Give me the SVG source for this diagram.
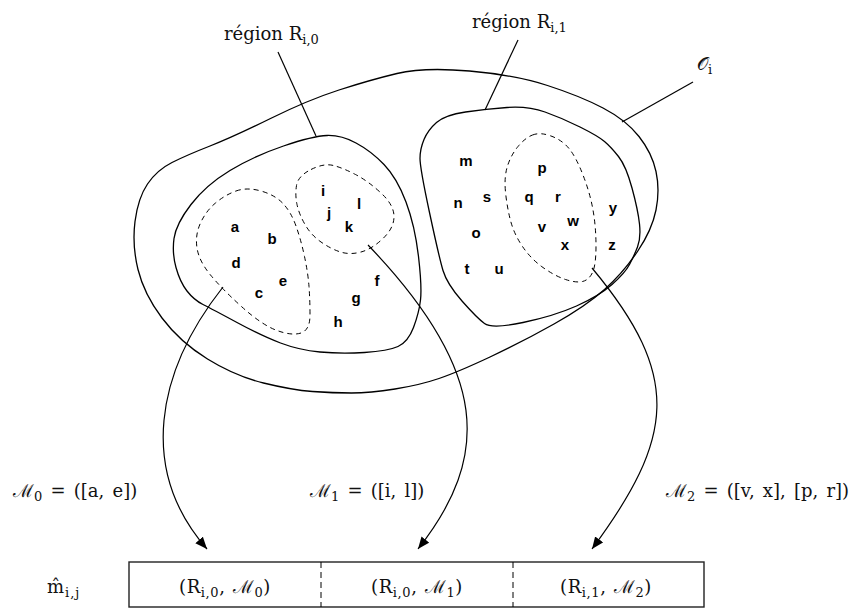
<svg xmlns="http://www.w3.org/2000/svg" width="851" height="610" viewBox="0 0 851 610">
<style>
.solid{fill:none;stroke:#000;stroke-width:1.3}
.dash{fill:none;stroke:#000;stroke-width:1;stroke-dasharray:5 4}
.lead{fill:none;stroke:#000;stroke-width:1.2}
.conn{fill:none;stroke:#000;stroke-width:1.2;marker-end:url(#ah)}
.lt{font-family:"Liberation Sans",Arial,sans-serif;font-weight:bold;font-size:15px;fill:#000;text-anchor:middle}
.mt{font-family:"DejaVu Serif","Liberation Serif",serif;font-size:18px;fill:#111}
.ml{word-spacing:2.5px}
.bt{letter-spacing:0.6px;word-spacing:1px}
.sub{font-size:13px}
</style>
<defs>
<marker id="ah" markerUnits="userSpaceOnUse" markerWidth="14" markerHeight="12" refX="12" refY="5" orient="auto">
<path d="M0,0 L12,5 L0,10 Z" fill="#000"/>
</marker>
</defs>
<rect width="851" height="610" fill="#fff"/>

<g id="region-O">
<path class="solid" d="M397,73.5 Q424,67 469.5,71 Q515,75 547.5,85.5 Q580,96 603,108 Q626,120 639,136.5 Q652,153 656,171.5 Q660,190 656,210 Q652,230 637.5,251.5 Q623,273 604.5,289.5 Q586,306 554,324 Q522,342 490,357 Q458,372 439,378.5 Q420,385 395,389 Q370,393 351.5,393 Q333,393 312.5,391.5 Q292,390 263.5,383 Q235,376 207.5,359 Q180,342 162,318 Q144,294 138,269.5 Q132,245 135,221.5 Q138,198 147.5,184 Q157,170 172,162.5 Q187,155 210,146 Q233,137 270.5,118.5 Q308,100 339,90 Q370,80 397,73.5 Z"/>
<line class="lead" x1="622" y1="122" x2="693" y2="82"/>
<text class="mt" x="697" y="70">𝒪<tspan class="sub" dy="4">i</tspan></text>
</g>

<g id="region-R0">
<path class="solid" d="M356,143 Q341,135 327,135.5 Q313,136 283.5,146 Q254,156 230,170.5 Q206,185 191,204.5 Q176,224 174,238.5 Q172,253 176,267.5 Q180,282 187,291 Q194,300 203,304.5 Q212,309 237,322.5 Q262,336 280.5,343 Q299,350 320,352 Q341,354 364.5,352.5 Q388,351 398,346.5 Q408,342 413.5,327.5 Q419,313 420.5,300 Q422,287 418.5,256.5 Q415,226 406,202 Q397,178 384,164.5 Q371,151 356,143 Z"/>
<line class="lead" x1="278" y1="52" x2="316" y2="136"/>
<text class="mt" x="224" y="40">région R<tspan class="sub" dy="4">i,0</tspan></text>
</g>

<g id="region-R1">
<path class="solid" d="M436.5,122.5 Q445,115 465.5,112 Q486,109 507,107.5 Q528,106 545,112 Q562,118 580,127 Q598,136 604.5,141.5 Q611,147 618.5,156.5 Q626,166 632,188 Q638,210 639.5,224 Q641,238 637.5,247 Q634,256 629.5,264.5 Q625,273 612,284.5 Q599,296 576.5,306 Q554,316 523,322.5 Q492,329 484.5,323.5 Q477,318 462,301 Q447,284 443,270.5 Q439,257 429.5,212.5 Q420,168 420,158.5 Q420,149 424,139.5 Q428,130 436.5,122.5 Z"/>
<line class="lead" x1="485" y1="110" x2="518" y2="40"/>
<text class="mt" x="472" y="28">région R<tspan class="sub" dy="4">i,1</tspan></text>
</g>

<g id="group-M0">
<path class="dash" d="M236,191 Q247,187 261,191 Q275,195 283,203.5 Q291,212 296,226 Q301,240 304.5,256.5 Q308,273 309,286.5 Q310,300 310,315 Q310,330 301,333 Q292,336 277,330.5 Q262,325 242,307 Q222,289 210.5,275 Q199,261 197,248 Q195,235 200.5,223 Q206,211 215.5,203 Q225,195 236,191 Z"/>
</g>
<g id="group-M1">
<path class="dash" d="M311,169.5 Q324,163 333.5,165.5 Q343,168 355.5,174.5 Q368,181 381,193 Q394,205 394,216.5 Q394,228 383,238.5 Q372,249 361,252 Q350,255 340.5,252 Q331,249 321,242 Q311,235 305,224.5 Q299,214 297,204.5 Q295,195 296.5,185.5 Q298,176 311,169.5 Z"/>
</g>
<g id="group-M2">
<path class="dash" d="M532.5,135 Q540,132 551,136 Q562,140 569,148.5 Q576,157 583,175 Q590,193 593,210 Q596,227 596,246 Q596,265 592.5,272.5 Q589,280 582.5,281.5 Q576,283 565.5,279.5 Q555,276 543,267.5 Q531,259 522.5,246.5 Q514,234 510.5,220.5 Q507,207 505.5,192 Q504,177 507.5,166 Q511,155 518,146.5 Q525,138 532.5,135 Z"/>
</g>

<g id="letters">
<text class="lt" x="235" y="232">a</text>
<text class="lt" x="272" y="244">b</text>
<text class="lt" x="236" y="268">d</text>
<text class="lt" x="283" y="286">e</text>
<text class="lt" x="259" y="298">c</text>
<text class="lt" x="323" y="196">i</text>
<text class="lt" x="359" y="209">l</text>
<text class="lt" x="329" y="218">j</text>
<text class="lt" x="349" y="232">k</text>
<text class="lt" x="377" y="286">f</text>
<text class="lt" x="356" y="303">g</text>
<text class="lt" x="338" y="327">h</text>
<text class="lt" x="466" y="166">m</text>
<text class="lt" x="542" y="173">p</text>
<text class="lt" x="458" y="208">n</text>
<text class="lt" x="487" y="202">s</text>
<text class="lt" x="529" y="202">q</text>
<text class="lt" x="558" y="202">r</text>
<text class="lt" x="613" y="213">y</text>
<text class="lt" x="573" y="226">w</text>
<text class="lt" x="542" y="232">v</text>
<text class="lt" x="476" y="238">o</text>
<text class="lt" x="565" y="250">x</text>
<text class="lt" x="612" y="250">z</text>
<text class="lt" x="467" y="274">t</text>
<text class="lt" x="499" y="274">u</text>
</g>

<g id="connectors">
<path class="conn" d="M223,287 C156,372 138,470 207,549"/>
<path class="conn" d="M368,245 C490,372 490.5,457 418,549"/>
<path class="conn" d="M592,268 C683,377 674,438 592,549"/>
</g>

<g id="labels">
<text class="mt ml" x="13" y="497">ℳ<tspan class="sub" dy="4">0</tspan><tspan dy="-4"> = ([a, e])</tspan></text>
<text class="mt ml" x="310" y="497">ℳ<tspan class="sub" dy="4">1</tspan><tspan dy="-4"> = ([i, l])</tspan></text>
<text class="mt ml" x="666" y="497">ℳ<tspan class="sub" dy="4">2</tspan><tspan dy="-4"> = ([v, x], [p, r])</tspan></text>
</g>

<g id="m-hat">
<text class="mt" x="47" y="593" letter-spacing="1">m̂<tspan class="sub" dy="4">i,j</tspan></text>
<rect x="129" y="562" width="575" height="45" fill="none" stroke="#222" stroke-width="1.4"/>
<line x1="321" y1="562" x2="321" y2="607" stroke="#000" stroke-width="1" stroke-dasharray="6 4"/>
<line x1="513" y1="562" x2="513" y2="607" stroke="#000" stroke-width="1" stroke-dasharray="6 4"/>
<text class="mt bt" x="225" y="593" text-anchor="middle">(R<tspan class="sub" dy="4">i,0</tspan><tspan dy="-4">, ℳ</tspan><tspan class="sub" dy="4">0</tspan><tspan dy="-4">)</tspan></text>
<text class="mt bt" x="417" y="593" text-anchor="middle">(R<tspan class="sub" dy="4">i,0</tspan><tspan dy="-4">, ℳ</tspan><tspan class="sub" dy="4">1</tspan><tspan dy="-4">)</tspan></text>
<text class="mt bt" x="606" y="593" text-anchor="middle">(R<tspan class="sub" dy="4">i,1</tspan><tspan dy="-4">, ℳ</tspan><tspan class="sub" dy="4">2</tspan><tspan dy="-4">)</tspan></text>
</g>
</svg>
